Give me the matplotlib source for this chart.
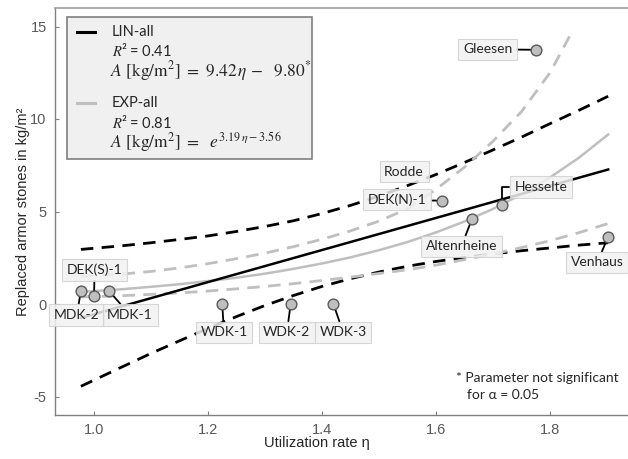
import matplotlib
matplotlib.use("Agg")
import matplotlib.pyplot as plt
from matplotlib.patches import Rectangle
from matplotlib.lines import Line2D

plt.rcParams['mathtext.fontset'] = 'stix'

# ---------------- data ----------------
sites = ["MDK-2", "DEK(S)-1", "MDK-1", "WDK-1", "WDK-2", "WDK-3",
         "DEK(N)-1", "Altenrheine", "Hesselte", "Gleesen", "Venhaus"]
eta = [0.977, 1.000, 1.026, 1.225, 1.345, 1.420, 1.610, 1.663, 1.716, 1.775, 1.902]
A = [0.72, 0.45, 0.72, 0.0, 0.0, 0.0, 5.58, 4.58, 5.33, 13.74, 3.64]

eta_lin = [0.977, 1.902]
lin_fit = [-0.75, 7.27]

eta_band = [0.977, 1.05, 1.10, 1.15, 1.20, 1.25, 1.30, 1.35, 1.40, 1.45,
            1.50, 1.55, 1.60, 1.65, 1.70, 1.75, 1.80, 1.85, 1.902]
lin_upper = [2.95, 3.15, 3.31, 3.49, 3.68, 3.92, 4.19, 4.50, 4.89, 5.33,
             5.83, 6.40, 7.00, 7.65, 8.33, 9.02, 9.75, 10.46, 11.23]
lin_lower = [-4.45, -3.39, -2.67, -1.99, -1.32, -0.68, -0.08, 0.46, 0.95, 1.37,
             1.73, 2.04, 2.30, 2.51, 2.71, 2.88, 3.03, 3.18, 3.31]
exp_fit = [0.65, 0.80, 0.93, 1.07, 1.24, 1.42, 1.64, 1.90, 2.19, 2.52,
           2.91, 3.35, 3.87, 4.46, 5.14, 5.93, 6.84, 7.89, 9.16]
exp_lower = [0.38, 0.45, 0.52, 0.60, 0.70, 0.82, 0.95, 1.10, 1.27, 1.45,
             1.65, 1.85, 2.10, 2.40, 2.70, 3.05, 3.42, 3.85, 4.35]

eta_exp_up = [0.977, 1.05, 1.10, 1.15, 1.20, 1.25, 1.30, 1.35, 1.40, 1.45,
              1.50, 1.55, 1.60, 1.65, 1.70, 1.75, 1.80, 1.84]
exp_upper = [1.50, 1.62, 1.76, 1.95, 2.18, 2.45, 2.75, 3.10, 3.50, 3.95,
             4.48, 5.15, 6.20, 7.40, 8.80, 10.40, 12.50, 14.80]

x_ticks = [1.0, 1.2, 1.4, 1.6, 1.8]
y_ticks = [-5, 0, 5, 10, 15]

# label offsets (points) relative to each site marker: layout only
label_offsets = {
    "MDK-2": (-2.9, -17.5), "DEK(S)-1": (0.5, 18.7), "MDK-1": (15.3, -17.5),
    "WDK-1": (1.2, -20.3), "WDK-2": (-2.7, -20.3), "WDK-3": (7.0, -20.3),
    "DEK(N)-1": (-32.2, 0.9), "Altenrheine": (-7.7, -19.6), "Hesselte": (27.9, 13.2),
    "Gleesen": (-34.7, 0.4), "Venhaus": (-7.8, -18.6),
}

# ---------------- figure ----------------
fig = plt.figure(figsize=(6.28, 4.59), dpi=100)
ax = fig.add_axes([55 / 628, 44 / 459, 1 - 55 / 628, 407 / 459])
ax.set_xlim(0.9316, 1.9368)
ax.set_ylim(-6, 16)

grey = '#bfbfbf'
ax.plot(eta_band, lin_upper, color='black', lw=2.0, ls=(0, (4.5, 3)), zorder=2)
ax.plot(eta_band, lin_lower, color='black', lw=2.0, ls=(0, (4.5, 3)), zorder=2)
ax.plot(eta_exp_up, exp_upper, color=grey, lw=2.0, ls=(0, (4.5, 3)), zorder=2)
ax.plot(eta_band, exp_lower, color=grey, lw=2.0, ls=(0, (4.5, 3)), zorder=2)
ax.plot(eta_band, exp_fit, color=grey, lw=1.8, zorder=2)
ax.plot(eta_lin, lin_fit, color='black', lw=1.8, zorder=2)

label_font = dict(family='Lato', size=10, color='#262626')
box = dict(boxstyle='square,pad=0.33', fc='#f2f2f2', ec='#d0d0d0', lw=0.8, alpha=0.85)
for s, x, y in zip(sites, eta, A):
    dx, dy = label_offsets[s]
    if s == "Hesselte":
        cs = "angle,angleA=0,angleB=90,rad=0"
        rel = (0.0, 0.5)
    else:
        cs = "arc3"
        rel = (0.5, 0.5)
    ax.annotate(s, xy=(x, y), xytext=(dx, dy), textcoords='offset points',
                ha='center', va='center', bbox=box,
                arrowprops=dict(arrowstyle='-', color='black', lw=1.3,
                                shrinkA=0, shrinkB=0, connectionstyle=cs, relpos=rel),
                zorder=4, **label_font)
ax.text(1.544, 7.16, "Rodde", ha='center', va='center',
        bbox=box, zorder=4, **label_font)

ax.scatter(eta, A, s=60, facecolor='#bfbfbf', edgecolor='#595959', lw=1.0, zorder=5)

# legend box (manual)
T = ax.transAxes
def fx(px):
    return (px - 55) / 573
def fy(py):
    return (415 - py) / 407
ax.add_patch(Rectangle((fx(66.7), fy(159.3)), fx(312.3) - fx(66.7), fy(16.7) - fy(159.3),
                       transform=T, fc='#f0f0f0', ec='#7f7f7f', lw=1.2, zorder=6))
ax.add_line(Line2D([fx(77), fx(95)], [fy(31.7), fy(31.7)], transform=T, color='black', lw=2.2, zorder=7))
ax.add_line(Line2D([fx(77), fx(95)], [fy(103.3), fy(103.3)], transform=T, color=grey, lw=2.2, zorder=7))
leg_font = dict(family='Lato', size=10.5, color='#262626')
ax.text(fx(111.5), fy(31.7), "LIN-all", transform=T, va='center', ha='left', zorder=7, **leg_font)
ax.text(fx(111.5), fy(50.7), r"$R$" + "² = 0.41", transform=T, va='center', ha='left', zorder=7, **leg_font)
ax.text(fx(110), fy(71), r"$A\ [\mathrm{kg/m^2}]\ =\ 9.42\,\eta\,-\ \ 9.80^{*}$", transform=T,
        va='center', ha='left', zorder=7, fontsize=12.5, color='#262626')
ax.text(fx(111.5), fy(103.3), "EXP-all", transform=T, va='center', ha='left', zorder=7, **leg_font)
ax.text(fx(111.5), fy(122.7), r"$R$" + "² = 0.81", transform=T, va='center', ha='left', zorder=7, **leg_font)
ax.text(fx(110), fy(142), r"$A\ [\mathrm{kg/m^2}]\ =\ \ e^{3.19\,\eta - 3.56}$", transform=T,
        va='center', ha='left', zorder=7, fontsize=12.5, color='#262626')

ax.text(fx(456), fy(378), "* Parameter not significant", transform=T, ha='left', va='center',
        family='Lato', size=10, color='#262626')
ax.text(fx(467), fy(395), "for α = 0.05", transform=T, ha='left', va='center',
        family='Lato', size=10, color='#262626')

# axes styling
ax.spines['right'].set_visible(False)
for sp in ['left', 'bottom']:
    ax.spines[sp].set_color('#808080')
    ax.spines[sp].set_linewidth(1.0)
ax.spines['top'].set_color('#a0a0a0')
ax.spines['top'].set_linewidth(1.2)

ax.set_xticks(x_ticks)
ax.set_xticklabels([f"{v:.1f}" for v in x_ticks])
ax.set_yticks(y_ticks)
ax.set_yticklabels([str(v) for v in y_ticks])
ax.tick_params(direction='in', length=3, color='#808080', labelcolor='#595959',
               labelsize=10.5, pad=6)
for lab in ax.get_xticklabels() + ax.get_yticklabels():
    lab.set_family('Liberation Sans')

fig.text(317 / 628, 1 - 443 / 459, "Utilization rate η", ha='center', va='center',
         family='Liberation Sans', size=10.5, color='#262626')
fig.text(23 / 628, 1 - 212 / 459, "Replaced armor stones in kg/m²", ha='center', va='center',
         rotation=90, family='Liberation Sans', size=10.5, color='#262626')

fig.savefig("out.png", dpi=100)
